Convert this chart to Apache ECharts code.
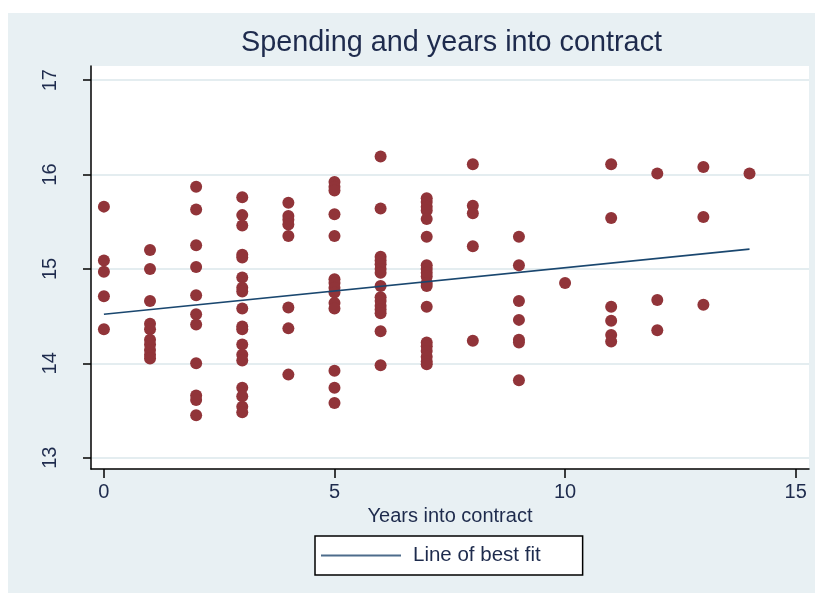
<!DOCTYPE html>
<html>
<head>
<meta charset="utf-8">
<script src="https://cdn.jsdelivr.net/npm/echarts@6/dist/echarts.min.js"></script>
<style>
  html, body { margin: 0; padding: 0; background: #ffffff; }
  #chart { width: 815px; height: 594px; }
</style>
</head>
<body>
<div id="chart"></div>
<script>
// years into contract, one column of dots per year
const years = [0, 1, 2, 3, 4, 5, 6, 7, 8, 9, 10, 11, 12, 13, 14];
const spendingByYear = [
  [15.66, 15.09, 14.97, 14.71, 14.36],
  [15.20, 15.00, 14.66, 14.42, 14.36, 14.25, 14.20, 14.14, 14.09, 14.05],
  [15.87, 15.63, 15.25, 15.02, 14.72, 14.52, 14.41, 14.00, 13.66, 13.61, 13.45],
  [15.76, 15.57, 15.46, 15.15, 15.12, 14.91, 14.80, 14.76, 14.58, 14.39, 14.36, 14.20, 14.09, 14.03, 13.74, 13.65, 13.54, 13.48],
  [15.70, 15.56, 15.52, 15.47, 15.35, 14.59, 14.37, 13.88],
  [15.92, 15.87, 15.83, 15.58, 15.35, 14.89, 14.85, 14.80, 14.75, 14.64, 14.58, 13.92, 13.74, 13.58],
  [16.19, 15.64, 15.13, 15.09, 15.05, 15.00, 14.96, 14.82, 14.70, 14.66, 14.61, 14.57, 14.53, 14.34, 13.98],
  [15.75, 15.71, 15.66, 15.62, 15.53, 15.34, 15.04, 15.00, 14.96, 14.92, 14.85, 14.82, 14.60, 14.22, 14.18, 14.13, 14.07, 14.02, 13.99],
  [16.11, 15.67, 15.59, 15.24, 14.24],
  [15.34, 15.04, 14.66, 14.46, 14.25, 14.22, 13.82],
  [14.85],
  [16.11, 15.54, 14.60, 14.45, 14.30, 14.23],
  [16.01, 14.67, 14.35],
  [16.08, 15.55, 14.62],
  [16.01]
];
// line of best fit end points
const fitX = [0, 14];
const fitY = [14.52, 15.21];

const xTicks = [0, 5, 10, 15];
const yTicks = [13, 14, 15, 16, 17];

const FONT = '"Liberation Sans", Arial, sans-serif';

const points = [];
years.forEach((yr, i) => {
  spendingByYear[i].forEach((v) => points.push([yr, v]));
});

const chart = echarts.init(document.getElementById("chart"));

const option = {
  animation: false,
  backgroundColor: "#ffffff",
  graphic: [
    {
      type: "rect",
      z: -10,
      shape: { x: 8, y: 13, width: 807, height: 580 },
      style: { fill: "#e8f0f3" },
    },
  ],
  title: {
    text: "Spending and years into contract",
    left: 241,
    top: 29,
    padding: 0,
    textStyle: {
      fontFamily: FONT,
      fontSize: 28.8,
      fontWeight: "normal",
      color: "#1e2b4d",
    },
  },
  grid: {
    left: 91,
    right: 6,
    top: 66,
    bottom: 125,
    show: true,
    backgroundColor: "#ffffff",
    borderWidth: 0,
  },
  legend: {
    left: 315,
    top: 536,
    data: [{ name: "Line of best fit", icon: "rect" }],
    backgroundColor: "#ffffff",
    borderColor: "#000000",
    borderWidth: 1.5,
    borderRadius: 0,
    padding: [9, 42, 9, 6],
    itemWidth: 80,
    itemHeight: 2,
    itemStyle: { color: "#4d6c8b" },
    textStyle: {
      fontFamily: FONT,
      fontSize: 20.5,
      color: "#1e2b4d",
      padding: [0, 0, 0, 7],
    },
  },
  xAxis: {
    type: "value",
    min: -0.28,
    max: 15.29,
    name: "Years into contract",
    nameLocation: "middle",
    nameGap: 34,
    nameTextStyle: { fontFamily: FONT, fontSize: 20, color: "#1e2b4d" },
    axisLine: { onZero: false, lineStyle: { color: "#000000", width: 1.5 } },
    axisTick: { show: true, length: 9, customValues: xTicks, lineStyle: { color: "#000000", width: 1.5 } },
    axisLabel: {
      customValues: xTicks,
      margin: 13,
      fontFamily: FONT,
      fontSize: 20,
      color: "#1e2b4d",
    },
    splitLine: { show: false },
  },
  yAxis: {
    type: "value",
    min: 12.88,
    max: 17.15,
    axisLine: { show: true, onZero: false, lineStyle: { color: "#000000", width: 1.5 } },
    axisTick: { show: true, length: 8, customValues: yTicks, lineStyle: { color: "#000000", width: 1.5 } },
    axisLabel: {
      customValues: yTicks,
      rotate: 90,
      margin: 31,
      fontFamily: FONT,
      fontSize: 20,
      color: "#1e2b4d",
    },
    splitLine: { show: true, lineStyle: { color: "#e4edf0", width: 2 } },
  },
  series: [
    {
      name: "Spending",
      type: "scatter",
      data: points,
      symbolSize: 12,
      itemStyle: { color: "#913439", opacity: 1 },
      z: 2,
    },
    {
      name: "Line of best fit",
      type: "line",
      data: fitX.map((x, i) => [x, fitY[i]]),
      symbol: "none",
      lineStyle: { color: "#1a476f", width: 1.6 },
      itemStyle: { color: "#1a476f" },
      z: 3,
    },
  ],
};

chart.setOption(option);
</script>
</body>
</html>
